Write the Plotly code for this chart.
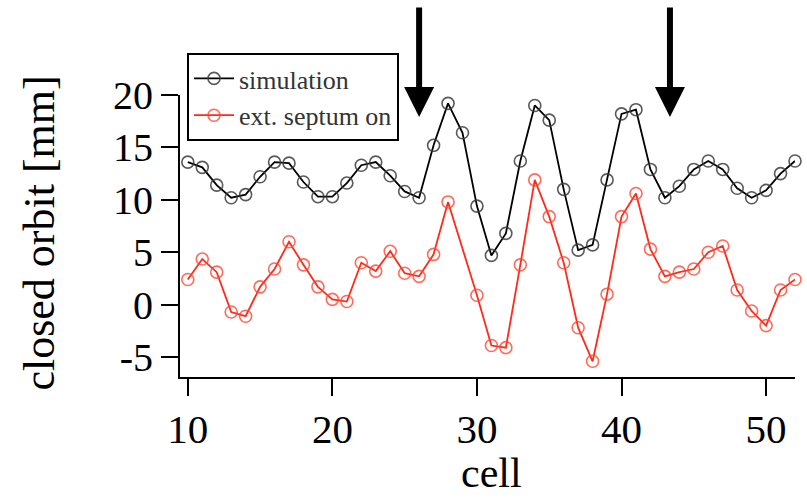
import plotly.graph_objects as go

cells_sim = list(range(10, 53))
sim = [13.6, 13.1, 11.4, 10.2, 10.5, 12.2, 13.6, 13.5, 11.7, 10.3,
       10.3, 11.6, 13.3, 13.6, 12.3, 10.8, 10.2, 15.2, 19.2, 16.4,
       9.4, 4.7, 6.8, 13.7, 19.0, 17.6, 11.0, 5.2, 5.7, 11.9,
       18.2, 18.6, 12.9, 10.2, 11.3, 12.9, 13.7, 12.9, 11.1, 10.2,
       10.9, 12.5, 13.7]

cells_sep = list(range(10, 29)) + list(range(30, 53))
sep = [2.4, 4.35, 3.1, -0.7, -1.1, 1.7, 3.4, 6.0, 3.8, 1.7,
       0.5, 0.3, 4.0, 3.2, 5.1, 3.0, 2.7, 4.8, 9.8,
       0.9, -3.9, -4.1, 3.8, 11.9, 8.4, 4.0, -2.2, -5.4, 1.0,
       8.4, 10.6, 5.3, 2.7, 3.1, 3.4, 5.0, 5.6, 1.4, -0.6,
       -2.0, 1.4, 2.4]

arrow_cells = [26.0, 43.35]
arrow_tip = 17.9

x_ticks = [10, 20, 30, 40, 50]
y_ticks = [-5, 0, 5, 10, 15, 20]
y_tick_labels = ["-5", "0", "5", "10", "15", "20"]

FONT = "Liberation Serif"

W, H = 807, 498
L, R, T, B = 179.5, 12, 95, 121
PW, PH = W - L - R, H - T - B

fig = go.Figure()
fig.add_trace(go.Scatter(
    x=cells_sim, y=sim, mode="lines+markers", name="simulation",
    line=dict(color="black", width=1.8),
    marker=dict(symbol="circle-open", size=12, color="rgba(60,60,60,0.85)",
                line=dict(width=1.6, color="rgba(60,60,60,0.85)")),
    cliponaxis=False,
))
fig.add_trace(go.Scatter(
    x=cells_sep, y=sep, mode="lines+markers", name="ext. septum on",
    line=dict(color="#ff2a1a", width=1.8),
    marker=dict(symbol="circle-open", size=12, color="rgba(255,70,50,0.8)",
                line=dict(width=1.6, color="rgba(255,70,50,0.8)")),
    cliponaxis=False,
))

for xc in arrow_cells:
    fig.add_annotation(
        x=xc, y=arrow_tip, xref="x", yref="y", text="",
        showarrow=True, ax=0, ay=-111, axref="pixel", ayref="pixel",
        arrowhead=2, arrowsize=1.0, arrowwidth=6, arrowcolor="black",
        standoff=0,
    )

# axis titles
fig.add_annotation(
    text="closed orbit [mm]", xref="paper", yref="paper",
    x=(38 - L) / PW, y=(H - B - 233) / PH, showarrow=False, textangle=-90,
    xanchor="center", yanchor="middle",
    font=dict(family=FONT, size=44, color="black"),
)
fig.add_annotation(
    text="cell", xref="paper", yref="paper",
    x=(491 - L) / PW, y=(H - B - 473) / PH, showarrow=False,
    xanchor="center", yanchor="middle",
    font=dict(family=FONT, size=42, color="black"),
)

fig.update_layout(
    width=W, height=H,
    margin=dict(l=L, r=R, t=T, b=B, autoexpand=False),
    paper_bgcolor="white", plot_bgcolor="white",
    font=dict(family=FONT, color="black"),
    showlegend=True,
    legend=dict(
        x=187 / W, y=1 - 53 / H, xref="container", yref="container",
        xanchor="left", yanchor="top",
        bgcolor="white", bordercolor="black", borderwidth=2,
        font=dict(family=FONT, size=26, color="#333"),
        tracegroupgap=0, itemwidth=40,
    ),
    xaxis=dict(
        range=[9.46, 52.0], tickvals=x_ticks, ticks="outside", ticklen=17,
        tickwidth=2, tickcolor="black", showline=True, linewidth=2,
        linecolor="black", showgrid=False, zeroline=False, automargin=False,
        tickfont=dict(family=FONT, size=41, color="black"),
        ticklabelstandoff=-2,
    ),
    yaxis=dict(
        range=[-6.9, 20], tickvals=y_ticks, ticktext=y_tick_labels,
        ticks="outside", ticklen=17,
        tickwidth=2, tickcolor="black", showline=True, linewidth=2,
        linecolor="black", showgrid=False, zeroline=False, automargin=False,
        tickfont=dict(family=FONT, size=40, color="black"),
        ticklabelstandoff=0,
    ),
)

# remove the default 8px page margin so the figure fills the window exactly
fig.write_html(
    "out.html",
    config={"displayModeBar": False},
    post_script="document.body.style.margin='0px';document.body.style.overflow='hidden';",
)
